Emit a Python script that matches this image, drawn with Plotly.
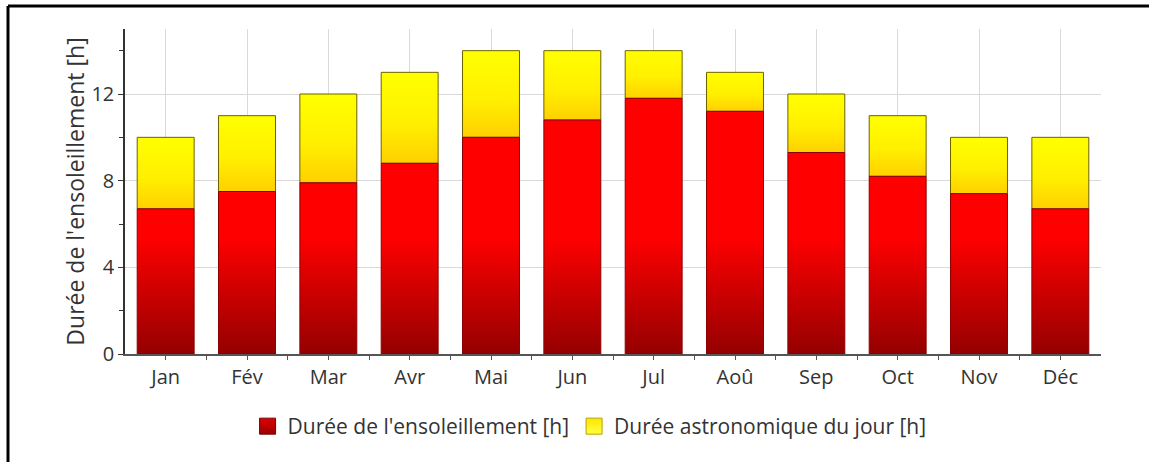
import plotly.graph_objects as go

# Monthly data (hours per day)
months = ["Jan", "Fév", "Mar", "Avr", "Mai", "Jun", "Jul", "Aoû", "Sep", "Oct", "Nov", "Déc"]
sunshine = [6.7, 7.5, 7.9, 8.8, 10.0, 10.8, 11.8, 11.2, 9.3, 8.2, 7.4, 6.7]
day_length = [10, 11, 12, 13, 14, 14, 14, 13, 12, 11, 10, 10]

SUN_NAME = "Durée de l'ensoleillement [h]"
DAY_NAME = "Durée astronomique du jour [h]"

BAR_W = 0.7
FONT = "Open Sans, Noto Sans, sans-serif"
TXT = "#333333"


def rect(i, y0, y1):
    h = BAR_W / 2
    return [i - h, i + h, i + h, i - h, i - h], [y0, y0, y1, y1, y0]


fig = go.Figure()

# Yellow part: astronomical day length above the sunshine duration
for i, (s, d) in enumerate(zip(sunshine, day_length)):
    xs, ys = rect(i, s, d)
    fig.add_trace(go.Scatter(
        x=xs, y=ys, mode="lines", fill="toself",
        line=dict(color="#6e6200", width=1),
        fillgradient=dict(type="vertical", start=s, stop=d,
                          colorscale=[[0, "#ffd000"], [0.45, "#fff000"], [1, "#ffff00"]]),
        name=DAY_NAME, showlegend=False, hoverinfo="skip",
    ))

# Red part: sunshine duration
rx, ry = [], []
for i, s in enumerate(sunshine):
    xs, ys = rect(i, 0, s)
    rx += xs + [None]
    ry += ys + [None]
fig.add_trace(go.Scatter(
    x=rx, y=ry, mode="lines", fill="toself",
    line=dict(color="#8a0000", width=1),
    fillgradient=dict(type="vertical", start=0, stop=12,
                      colorscale=[[0, "#950000"], [0.45, "#ff0000"], [1, "#ff0000"]]),
    name=SUN_NAME, showlegend=False, hoverinfo="skip",
))

# Legend entries
for name, c_top, c_bot, edge in [(SUN_NAME, "#e00000", "#9a0000", "#7a0000"),
                                 (DAY_NAME, "#ffe600", "#ffff40", "#b8a000")]:
    fig.add_trace(go.Scatter(
        x=[None], y=[None], mode="markers", name=name,
        marker=dict(symbol="square", size=18, color=c_top,
                    gradient=dict(type="vertical", color=c_bot),
                    line=dict(color=edge, width=1)),
    ))

fig.update_layout(
    width=1149, height=462,
    margin=dict(l=125, r=48, t=29, b=108),
    paper_bgcolor="white", plot_bgcolor="white",
    font=dict(family=FONT, size=20, color=TXT),
    showlegend=True,
    legend=dict(orientation="h", x=0.476, xanchor="center", y=-0.16, yanchor="top",
                font=dict(size=21, color=TXT), traceorder="normal"),
    xaxis=dict(
        range=[-0.5, len(months) - 0.5],
        tickvals=list(range(len(months))), ticktext=months,
        ticks="outside", ticklen=4, tickcolor="#555555",
        minor=dict(tickvals=[i + 0.5 for i in range(len(months) - 1)],
                   ticks="outside", ticklen=4, tickcolor="#555555", showgrid=False),
        showgrid=True, gridcolor="#d9d9d9", gridwidth=1,
        showline=True, linecolor="#555555", linewidth=1.5,
        zeroline=False, fixedrange=True,
    ),
    yaxis=dict(
        range=[0, 15],
        tickvals=[0, 4, 8, 12],
        ticks="outside", ticklen=5, tickcolor="#333333",
        minor=dict(tickvals=[2, 6, 10, 14], ticks="outside", ticklen=4,
                   tickcolor="#333333", showgrid=False),
        showgrid=True, gridcolor="#d9d9d9", gridwidth=1,
        showline=True, linecolor="#333333", linewidth=1.5,
        zeroline=False,
        title=dict(text=SUN_NAME, font=dict(size=23, color=TXT), standoff=0),
    ),
)

# Frame edges (left and top) around the chart
frame_left = -117 / 976
frame_top = 1 + 23 / 325
fig.add_shape(type="line", xref="paper", yref="paper",
              x0=frame_left, x1=frame_left, y0=-0.6, y1=frame_top,
              line=dict(color="black", width=3), layer="above")
fig.add_shape(type="line", xref="paper", yref="paper",
              x0=frame_left, x1=1.2, y0=frame_top, y1=frame_top,
              line=dict(color="black", width=3), layer="above")

fig.write_html("out.html")
